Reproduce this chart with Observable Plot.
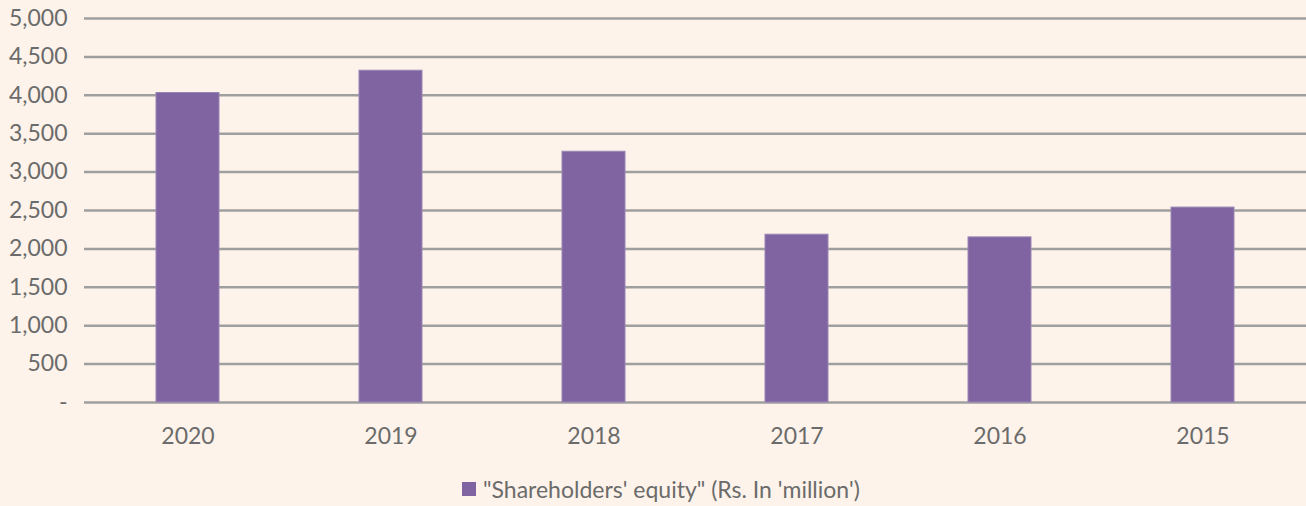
<!DOCTYPE html>
<html>
<head>
<meta charset="utf-8">
<script src="https://cdn.jsdelivr.net/npm/d3@7"></script>
<script src="https://cdn.jsdelivr.net/npm/@observablehq/plot@0.6"></script>
<style>
  html, body { margin: 0; padding: 0; background: #FDF3EA; }
  #wrap { position: relative; width: 1306px; height: 506px; background: #FDF3EA; overflow: hidden; }
  #legend { position: absolute; left: 462px; top: 475px; display: flex; align-items: center;
            font-family: Lato, sans-serif; font-size: 23px; color: #6b6b6b; white-space: nowrap; }
  #legend .sw { width: 14px; height: 14px; background: #8064A2; margin-right: 7px; }
</style>
</head>
<body>
<div id="wrap"><div id="chart"></div><div id="legend"><span class="sw"></span><span id="ltext"></span></div></div>
<script>
const years = ["2020", "2019", "2018", "2017", "2016", "2015"];
const equity = [4030, 4320, 3265, 2185, 2150, 2538];
const yTicks = [0, 500, 1000, 1500, 2000, 2500, 3000, 3500, 4000, 4500, 5000];
const seriesName = "\"Shareholders' equity\" (Rs. In 'million')";

const data = years.map((y, i) => ({year: y, value: equity[i]}));
const fmt = d3.format(",");

const chart = Plot.plot({
  width: 1306,
  height: 460,
  marginLeft: 84,
  marginRight: 0,
  marginTop: 18,
  marginBottom: 58,
  style: {background: "#FDF3EA", fontFamily: "Lato, sans-serif", fontSize: "23px", color: "#6b6b6b"},
  x: {domain: years, paddingInner: 0.69, paddingOuter: 0.345, label: null},
  y: {domain: [0, 5000], label: null},
  marks: [
    Plot.ruleY(yTicks, {stroke: "#9f9f9f", strokeWidth: 2.5}),
    Plot.barY(data, {x: "year", y: "value", fill: "#8064A2", stroke: "#9a86b6", strokeWidth: 1}),
    Plot.axisX({tickSize: 0, tickPadding: 25, fill: "#6b6b6b", label: null}),
    Plot.axisY({ticks: yTicks, tickSize: 0, tickPadding: 17, fill: "#6b6b6b", label: null,
                tickFormat: d => d === 0 ? "-" : fmt(d)})
  ]
});
document.getElementById("chart").appendChild(chart);
document.getElementById("ltext").textContent = seriesName;
</script>
</body>
</html>
